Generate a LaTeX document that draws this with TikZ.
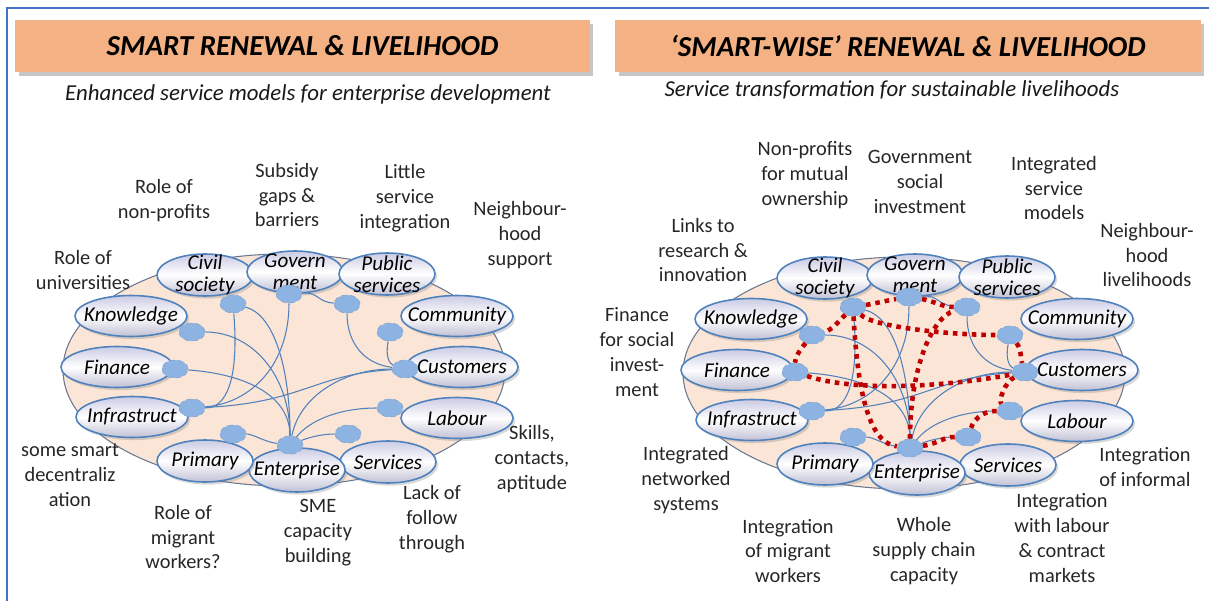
\documentclass[tikz,border=0pt]{standalone}
\usepackage{fontspec}
\setmainfont{Carlito}
\usetikzlibrary{positioning,shapes.geometric,shadows}
\definecolor{hdrorange}{RGB}{244,177,131}
\definecolor{ringfill}{RGB}{251,229,214}
\definecolor{ringline}{RGB}{105,120,145}
\definecolor{nodeblue}{RGB}{79,129,189}
\definecolor{lavender}{RGB}{203,203,228}
\definecolor{dotblue}{RGB}{141,179,226}
\definecolor{linkred}{RGB}{192,0,0}
\definecolor{frameblue}{RGB}{68,114,196}
\tikzset{
  hub/.style={ellipse, draw=nodeblue, line width=0.9pt, top color=lavender,
    bottom color=lavender!85!gray, middle color=white, inner xsep=-8pt,
    inner ysep=-6pt, align=center, font=\itshape\fontsize{12}{12.5}\selectfont,
    drop shadow={opacity=0.3, shadow xshift=1.2pt, shadow yshift=-1.5pt}},
  port/.style={ellipse, fill=dotblue, draw=nodeblue!70, densely dashed,
    line width=0.4pt, minimum width=0.52cm, minimum height=0.36cm, inner sep=0pt},
  link/.style={draw=nodeblue, line width=0.6pt},
  redlink/.style={draw=linkred, line width=2.6pt, dash pattern=on 2.6pt off 2.8pt},
  ring/.style={fill=ringfill, draw=ringline, line width=0.6pt},
  note/.style={align=center, font=\fontsize{11.6}{14.2}\selectfont, text=black!85, inner sep=0pt},
  banner/.style={fill=hdrorange, minimum height=1.04cm, inner sep=0pt,
    font=\bfseries\itshape\fontsize{16.5}{20}\selectfont,
    drop shadow={opacity=0.45, shadow xshift=2pt, shadow yshift=-2.5pt}},
  subtitle/.style={font=\itshape\fontsize{13}{15}\selectfont, text=black!90}
}
% one ring of sectors with its ports and thin links
\newcommand\ringnet[1]{%
  \draw[ring] (-6,0) ellipse [x radius=221, y radius=116];
  \foreach \nm/\px/\py/\w/\h/\txt in {civ/-85/-95/96/42/{Civil\\society},
      gov/5/-98/96/42/{Govern\\ment}, pub/97/-96/96/42/{Public\\services},
      com/167/-54/112/41/Community, cus/172/-3/112/41/Customers,
      lab/167/48/112/41/Labour, ser/98/92/96/42/Services,
      ent/7/100/96/44/Enterprise, pri/-85/91/96/42/Primary,
      inf/-158/47/112/41/Infrastruct, fin/-173/-3/112/41/Finance,
      kno/-159/-54/112/41/Knowledge}
    \node[hub, minimum width=\w*0.02cm, minimum height=\h*0.02cm] (#1\nm) at (\px,\py) {\txt};
  \foreach \nm/\px/\py in {civ/-57/-66, gov/-1/-76, pub/57/-66, com/100/-38,
      cus/115/-1, lab/100/38, ser/58/64, ent/0/75, pri/-57/64, inf/-98/38,
      fin/-115/-1, kno/-98/-38}
    \node[port] (#1\nm d) at (\px,\py) {};
  \draw[link] (#1civd) .. controls +(40,10) and +(0,-80) .. (#1entd);
  \draw[link] (#1civd) .. controls +(5,60) and +(40,0) .. (#1infd);
  \draw[link] (#1govd) .. controls +(0,70) and +(60,-5) .. (#1infd);
  \draw[link] (#1govd) .. controls +(30,-2) and +(-30,-2) .. (#1pubd);
  \draw[link] (#1knod) .. controls +(60,0) and +(0,-70) .. (#1entd);
  \draw[link] (#1find) .. controls +(70,5) and +(0,-50) .. (#1entd);
  \draw[link] (#1infd) .. controls +(110,-5) and +(-90,5) .. (#1cusd);
  \draw[link] (#1pubd) .. controls +(0,40) and +(-40,-5) .. (#1cusd);
  \draw[link] (#1comd) .. controls +(-5,25) and +(-15,-5) .. (#1cusd);
  \draw[link] (#1entd) .. controls +(10,-50) and +(-60,0) .. (#1cusd);
  \draw[link] (#1entd) .. controls +(20,-25) and +(-50,0) .. (#1labd);
  \draw[link] (#1entd) .. controls +(20,-8) and +(-25,0) .. (#1serd);
  \draw[link] (#1prid) .. controls +(20,0) and +(-25,-3) .. (#1entd);
}
\begin{document}
\begin{tikzpicture}[x=0.02cm, y=-0.02cm]
  \useasboundingbox (0,0) rectangle (1209,601);
  \draw[frameblue, line width=1.2pt] (7,601) -- (7,8) -- (1209,8);

  % headers
  \node[banner, minimum width=11.5cm] (lhead) at (302.5,46) {SMART RENEWAL \& LIVELIHOOD};
  \node[banner, minimum width=11.72cm] (rhead) at (908,46) {‘SMART-WISE’ RENEWAL \& LIVELIHOOD};
  \node[subtitle] (lsub) at (308,94) {Enhanced service models for enterprise development};
  \node[subtitle] (rsub) at (892,90) {Service transformation for sustainable livelihoods};

  % left ring
  \begin{scope}[shift={(290,370)}]
    \ringnet{L}
  \end{scope}

  % right ring with the red integration paths
  \begin{scope}[shift={(910,373)}]
    \ringnet{R}
    \draw[redlink] (Rcivd) .. controls +(25,-4) and +(-25,4) .. (Rgovd);
    \draw[redlink] (Rgovd) .. controls +(25,4) and +(-25,0) .. (Rpubd);
    \draw[redlink] (Rcivd) .. controls +(-15,15) and +(20,-5) .. (Rknod);
    \draw[redlink] (Rknod) .. controls +(-12,15) and +(0,-15) .. (Rfind);
    \draw[redlink] (Rfind) .. controls +(60,20) and +(-80,15) .. (Rcusd);
    \draw[redlink] (Rcivd) .. controls +(5,90) and +(-40,-5) .. (Rentd);
    \draw[redlink] (Rcivd) .. controls +(20,20) and +(-60,0) .. (Rcomd);
    \draw[redlink] (Rentd) .. controls +(0,-80) and +(-35,10) .. (Rpubd);
    \draw[redlink] (Rcomd) .. controls +(12,15) and +(-5,-15) .. (Rcusd);
    \draw[redlink] (Rcusd) .. controls +(-20,10) and +(-12,-10) .. (Rlabd);
    \draw[redlink] (Rlabd) .. controls +(-30,0) and +(5,-15) .. (Rserd);
    \draw[redlink] (Rserd) .. controls +(-25,0) and +(30,-5) .. (Rentd);
  \end{scope}

  % left notes
  \node[note] (lnonprof) at (164,201) {Role of\\non-profits};
  \node[note] (lsubsidy) at (287,195) {Subsidy\\gaps \&\\barriers};
  \node[note] (llittle) at (405,198) {Little\\service\\integration};
  \node[note] (lneigh) at (520,235) {Neighbour-\\hood\\support};
  \node[note] (luni) at (83,270) {Role of\\universities};
  \node[note] (ldecent) at (70,475) {some smart\\decentraliz\\ation};
  \node[note] (lmigrant) at (183,537) {Role of\\migrant\\workers?};
  \node[note] (lsme) at (318,533) {SME\\capacity\\building};
  \node[note] (llack) at (432,519) {Lack of\\follow\\through};
  \node[note] (lskills) at (532,459) {Skills,\\contacts,\\aptitude};

  % right notes
  \node[note] (rlinks) at (703,250) {Links to\\research \&\\innovation};
  \node[note] (rnonprof) at (805,175) {Non-profits\\for mutual\\ownership};
  \node[note] (rgov) at (920,182) {Government\\social\\investment};
  \node[note] (rintserv) at (1054,188) {Integrated\\service\\models};
  \node[note] (rneigh) at (1147,255) {Neighbour-\\hood\\livelihoods};
  \node[note] (rfinance) at (637,352) {Finance\\for social\\invest-\\ment};
  \node[note] (rnetwork) at (686,480) {Integrated\\networked\\systems};
  \node[note] (rmigrant) at (788,551) {Integration\\of migrant\\workers};
  \node[note] (rsupply) at (924,551) {Whole\\supply chain\\capacity};
  \node[note] (rlabour) at (1062,538) {Integration\\with labour\\\& contract\\markets};
  \node[note] (rinformal) at (1145,467) {Integration\\of informal};
\end{tikzpicture}
\end{document}
